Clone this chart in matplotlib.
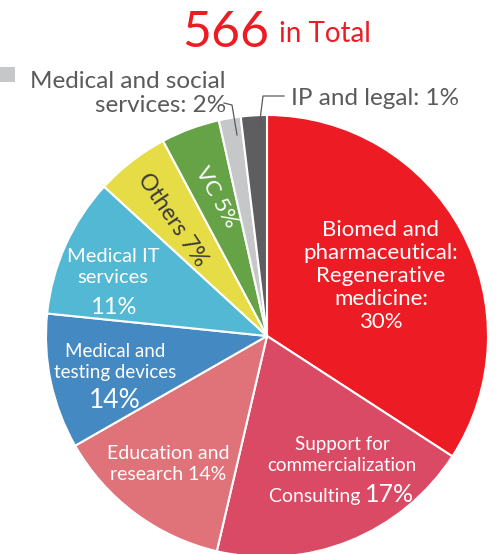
import matplotlib
matplotlib.use("Agg")
import matplotlib.pyplot as plt
from matplotlib.patches import Rectangle

plt.rcParams['font.family'] = ['Lato', 'DejaVu Sans']

# sectors (clockwise from 12 o'clock); shares as drawn in the picture, labels as printed
sectors = ['Biomed and pharmaceutical', 'Support for commercialization', 'Education and research',
           'Medical and testing devices', 'Medical IT services', 'Others', 'VC',
           'Medical and social services', 'IP and legal']
shares = [34.2, 19.5, 13.1, 9.9, 10.2, 5.4, 4.3, 1.6, 1.9]
printed_pct = [30, 17, 14, 14, 11, 7, 5, 2, 1]
colors = ['#ED1C24', '#DA4A64', '#E0727A', '#4489C1', '#52B8D3', '#E6DC45', '#66A246',
          '#C6C7C9', '#5E5E60']
total = 566

W, H = 503, 554
fig = plt.figure(figsize=(W / 100, H / 100), dpi=100)
ax = fig.add_axes([0, 0, 1, 1])


def Y(py):
    return H - py


ax.pie(shares, colors=colors, startangle=90, counterclock=False, center=(267, Y(336)),
       radius=221, frame=True, wedgeprops=dict(edgecolor='white', linewidth=1.5))
ax.set_xlim(0, W)
ax.set_ylim(0, H)
ax.set_aspect('equal')
ax.axis('off')

red = '#ED1C24'
grey = '#5A5A5C'

# Title
ax.text(226, Y(47), str(total), color=red, fontsize=36, ha='center', va='baseline')
ax.text(325, Y(42), 'in Total', color=red, fontsize=20, ha='center', va='baseline')

# Outside labels
ax.add_patch(Rectangle((0, Y(82)), 15, 15, color='#C6C7C9', lw=0))
ax.text(226, Y(88), 'Medical and social', color=grey, fontsize=17.5, ha='right', va='baseline')
ax.text(226, Y(112), 'services: %d%%' % printed_pct[7], color=grey, fontsize=17.5, ha='right',
        va='baseline')
ax.plot([224, 232, 237], [Y(103), Y(105), Y(135)], color=grey, lw=0.9)
ax.text(291, Y(105), 'IP and legal: %d%%' % printed_pct[8], color=grey, fontsize=17.5,
        ha='left', va='baseline')
ax.plot([284, 263, 259], [Y(96), Y(96), Y(128)], color=grey, lw=0.9)

# Inside labels
ax.text(381, Y(276), 'Biomed and\npharmaceutical:\nRegenerative\nmedicine:\n%d%%' % printed_pct[0],
        color='white', fontsize=16, ha='center', va='center', linespacing=1.2)
ax.text(342, Y(455), 'Support for\ncommercialization', color='white', fontsize=13.5,
        ha='center', va='center', linespacing=1.35)
ax.text(365, Y(502), 'Consulting ', color='white', fontsize=14, ha='right', va='baseline')
ax.text(365, Y(502), '%d%%' % printed_pct[1], color='white', fontsize=18, ha='left',
        va='baseline')
ax.text(168, Y(464), 'Education and\nresearch %d%%' % printed_pct[2], color='white',
        fontsize=14, ha='center', va='center', linespacing=1.25)
ax.text(115, Y(362), 'Medical and\ntesting devices', color='white', fontsize=13.5,
        ha='center', va='center', linespacing=1.3)
ax.text(115, Y(401), '%d%%' % printed_pct[3], color='white', fontsize=19, ha='center',
        va='center')
ax.text(113, Y(267), 'Medical IT\nservices', color='white', fontsize=14.5,
        ha='center', va='center', linespacing=1.35)
ax.text(113, Y(307), '%d%%' % printed_pct[4], color='white', fontsize=17, ha='center',
        va='center')
ax.text(172, Y(220), 'Others %d%%' % printed_pct[5], color='#3A3A3A', fontsize=16.5,
        rotation=-56, ha='center', va='center', rotation_mode='anchor')
ax.text(216, Y(197), 'VC %d%%' % printed_pct[6], color='white', fontsize=16,
        rotation=-61, ha='center', va='center', rotation_mode='anchor')

fig.savefig('out.png', dpi=100)
